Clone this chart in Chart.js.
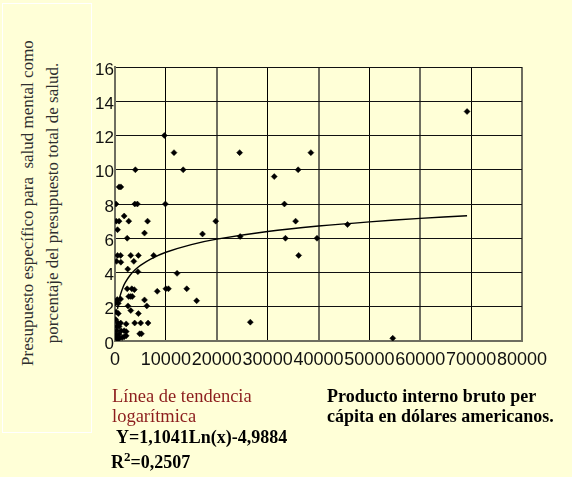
<!DOCTYPE html>
<html>
<head>
<meta charset="utf-8">
<script src="https://cdn.jsdelivr.net/npm/chart.js@4.4.1/dist/chart.umd.min.js"></script>
<style>
  html, body { margin:0; padding:0; background:#FFFFD7; }
  #wrap { position:relative; width:572px; height:477px; overflow:hidden; background:#FFFFD7; }
  #c { position:absolute; left:0; top:0; }
  .box { position:absolute; left:2px; top:3px; width:88px; height:428px; border:1.5px solid #ffffff; }
  .ytitle { position:absolute; left:40px; top:203px; width:420px; height:50px;
    transform: translate(-50%,-50%) rotate(-90deg); text-align:center;
    font-family:"Liberation Serif","Times New Roman",serif; font-size:17px; line-height:25px;
    color:#2e2e2e; white-space:pre; }
  .t { position:absolute; font-family:"Liberation Serif","Times New Roman",serif; font-size:18px; line-height:20px; white-space:pre; }
  .red { color:#8c1d1d; }
  .b { font-weight:bold; color:#000; }
</style>
</head>
<body>
<div id="wrap">
  <div class="box"></div>
  <div class="ytitle">Presupuesto específico para  salud mental como
porcentaje del presupuesto total de salud.</div>
  <canvas id="c" width="572" height="477"></canvas>
  <div class="t red" style="left:112px;top:386px;font-size:18.5px;">Línea de tendencia
logarítmica</div>
  <div class="t b" style="left:116px;top:427px;">Y=1,1041Ln(x)-4,9884</div>
  <div class="t b" style="left:111px;top:452px;">R<span style="font-size:13px;position:relative;top:-7px;">2</span>=0,2507</div>
  <div class="t b" style="left:327px;top:386px;">Producto interno bruto per
cápita en dólares americanos.</div>
</div>
<script>
// PIB per cápita (USD)
const pibPerCapita = [
  69200, 9700, 11600, 24500, 38500, 4000, 13400, 36000, 31300, 800,
  1150, 200, 3900, 4400, 9900, 33300, 250, 800, 1800, 2700,
  6400, 19800, 35500, 500, 5800, 2400, 17200, 24600, 33500, 39700,
  45700, 36100, 500, 1100, 3100, 4600, 7600, 300, 1150, 3700,
  2500, 4500, 12200, 2400, 3300, 3800, 8300, 10000, 10500, 14100,
  2700, 3100, 3400, 5800, 16050, 450, 1100, 100, 650, 2550,
  6250, 3100, 250, 650, 4600, 26600, 590, 1120, 2200, 3870,
  5050, 6500, 150, 350, 800, 350, 1200, 1800, 2200, 200,
  800, 4850, 5200, 330, 900, 1400, 1800, 2200, 500, 54600
];
// Presupuesto de salud mental (% del presupuesto total de salud)
const presupuestoSM = [
  13.4, 12.0, 11.0, 11.0, 11.0, 10.0, 10.0, 10.0, 9.6, 9.0,
  9.0, 8.0, 8.0, 8.0, 8.0, 8.0, 7.0, 7.0, 7.3, 7.0,
  7.0, 7.0, 7.0, 6.5, 6.3, 6.0, 6.25, 6.1, 6.0, 6.0,
  6.8, 5.0, 5.0, 5.0, 5.0, 5.0, 5.0, 4.65, 4.6, 4.65,
  4.2, 4.05, 3.95, 3.05, 3.05, 3.0, 2.9, 3.05, 3.05, 3.05,
  2.6, 2.6, 2.6, 2.4, 2.35, 2.42, 2.45, 2.2, 2.2, 2.05,
  2.05, 1.78, 1.7, 1.6, 1.6, 1.1, 1.05, 1.05, 1.0, 1.05,
  1.05, 1.05, 1.25, 0.85, 0.85, 0.6, 0.6, 0.6, 0.55, 0.35,
  0.4, 0.42, 0.42, 0.17, 0.17, 0.2, 0.25, 0.3, 0.1, 0.16
];
// Línea de tendencia logarítmica: Y = a*Ln(x) + b
const trendA = 1.1041;
const trendB = -4.9884;
const trendX = [500, 700, 1000, 1500, 2000, 3000, 4000, 5000, 7000, 10000, 15000, 20000, 30000, 40000, 50000, 60000, 69200];
const xTicks = [0, 10000, 20000, 30000, 40000, 50000, 60000, 70000, 80000];
const yTicks = [0, 2, 4, 6, 8, 10, 12, 14, 16];

const points = pibPerCapita.map((x, i) => ({ x: x, y: presupuestoSM[i] }));
const trend = trendX.map(x => ({ x: x, y: trendA * Math.log(x) + trendB }));

const fam = "'Liberation Sans', Arial, sans-serif";

new Chart(document.getElementById('c'), {
  type: 'scatter',
  data: {
    datasets: [
      {
        data: points,
        pointStyle: 'rectRot',
        pointRadius: 3,
        backgroundColor: '#000',
        borderColor: '#000',
        borderWidth: 0.5,
        order: 1
      },
      {
        type: 'line',
        data: trend,
        showLine: true,
        borderColor: '#000',
        borderWidth: 1.4,
        pointRadius: 0,
        tension: 0.3,
        fill: false,
        order: 0
      }
    ]
  },
  options: {
    responsive: false,
    animation: false,
    events: [],
    layout: { padding: { left: 0, top: 67, right: 50, bottom: 0 } },
    plugins: { legend: { display: false }, tooltip: { enabled: false } },
    scales: {
      x: {
        type: 'linear',
        min: 0, max: 80000,
        afterFit: s => { s.height = 136; },
        afterBuildTicks: s => { s.ticks = xTicks.map(v => ({ value: v })); },
        ticks: {
          autoSkip: false, maxRotation: 0, minRotation: 0,
          color: '#111', font: { family: fam, size: 18 }, padding: 8,
          callback: v => String(v)
        },
        grid: {
          drawTicks: false,
          color: c => (c.index % 2 === 1 ? '#000' : '#6e6e60'),
          lineWidth: c => (c.index % 2 === 1 ? 1 : 2)
        },
        border: { display: true, color: '#6e6e60', width: 2 }
      },
      y: {
        type: 'linear',
        min: 0, max: 16,
        afterFit: s => { s.width = 115; },
        afterBuildTicks: s => { s.ticks = yTicks.map(v => ({ value: v })); },
        ticks: {
          color: '#111', font: { family: fam, size: 17 }, padding: 1, labelOffset: 3,
          callback: v => String(v)
        },
        grid: {
          drawTicks: false,
          color: c => (c.index === 0 ? '#6e6e60' : '#111'),
          lineWidth: c => (c.index === 0 ? 2 : 1)
        },
        border: { display: true, color: '#6e6e60', width: 2 }
      }
    }
  }
});
</script>
</body>
</html>
